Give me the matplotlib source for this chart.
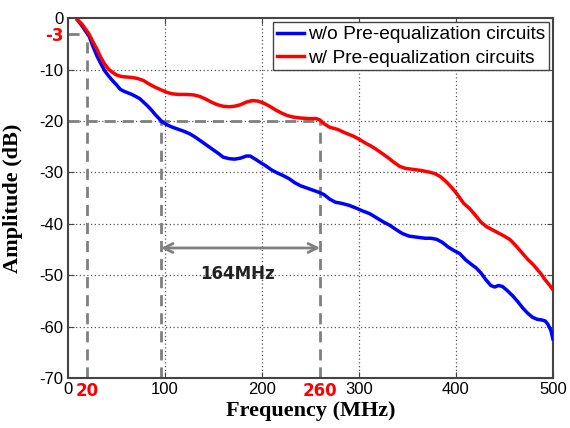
import numpy as np
import matplotlib
matplotlib.use('Agg')
import matplotlib.pyplot as plt

# w/o pre-equalization (blue)
f_blue = [10, 14, 18, 22, 26, 30, 34, 38, 42, 46, 50, 54, 58, 62, 66, 70, 74, 78, 82, 86,
          90, 94, 97, 102, 108, 114, 120, 126, 132, 138, 144, 150, 156, 160, 166, 172, 178,
          184, 188, 194, 198, 204, 210, 216, 222, 228, 234, 240, 246, 252, 258, 264, 270,
          276, 282, 290, 298, 304, 311, 318, 325, 332, 339, 345, 352, 360, 368, 374, 380,
          386, 392, 398, 404, 410, 416, 421, 426, 431, 436, 440, 444, 448, 453, 459, 464,
          469, 474, 479, 484, 488, 492, 495, 498, 500]
a_blue = [-0.3, -1.3, -2.4, -3.5, -5.5, -7.3, -8.8, -10.2, -11.2, -12.1, -12.9, -13.8, -14.2,
          -14.5, -14.8, -15.2, -15.6, -16.3, -17.0, -17.8, -18.7, -19.5, -20.1, -20.7, -21.2,
          -21.6, -22.0, -22.5, -23.2, -24.0, -24.8, -25.6, -26.4, -27.0, -27.3, -27.4, -27.2,
          -26.8, -26.8, -27.5, -28.0, -28.7, -29.5, -30.1, -30.6, -31.2, -32.0, -32.6, -33.0,
          -33.4, -33.8, -34.3, -35.2, -35.8, -36.0, -36.4, -37.0, -37.5, -38.0, -38.8, -39.6,
          -40.3, -41.2, -41.9, -42.4, -42.6, -42.8, -42.8, -43.0, -43.6, -44.5, -45.2, -45.8,
          -47.0, -47.9, -48.6, -49.6, -50.9, -52.0, -52.3, -52.0, -52.2, -53.0, -54.1, -55.2,
          -56.4, -57.4, -58.2, -58.6, -58.7, -58.9, -59.6, -60.8, -62.4]

# w/ pre-equalization (red)
f_red = [10, 14, 18, 22, 26, 30, 34, 38, 42, 46, 50, 55, 60, 66, 72, 78, 84, 90, 96, 102,
         108, 114, 122, 130, 136, 142, 148, 154, 160, 166, 172, 178, 184, 190, 196, 202, 208,
         214, 220, 226, 232, 240, 248, 256, 260, 264, 270, 278, 286, 294, 300, 306, 312, 318,
         324, 330, 336, 342, 348, 356, 364, 372, 378, 384, 390, 396, 402, 408, 414, 420, 426,
         432, 438, 444, 450, 456, 462, 468, 474, 480, 484, 488, 492, 496, 500]
a_red = [-0.3, -1.0, -2.0, -3.1, -4.6, -6.0, -7.6, -8.9, -9.9, -10.5, -11.0, -11.3, -11.4,
         -11.5, -11.7, -12.1, -12.8, -13.4, -13.9, -14.4, -14.7, -14.8, -14.8, -14.9, -15.2,
         -15.7, -16.3, -16.8, -17.1, -17.2, -17.1, -16.8, -16.3, -16.0, -16.1, -16.5, -17.1,
         -17.8, -18.4, -18.9, -19.2, -19.4, -19.5, -19.5, -19.8, -20.5, -21.2, -21.6, -22.3,
         -22.9, -23.5, -24.2, -24.8, -25.5, -26.3, -27.1, -28.0, -28.8, -29.2, -29.4, -29.6,
         -29.9, -30.2, -30.8, -31.8, -33.0, -34.4, -36.0, -37.0, -38.3, -39.7, -40.6, -41.2,
         -41.8, -42.4, -43.1, -44.3, -45.6, -46.9, -48.0, -48.9, -49.8, -50.9, -51.8, -52.8]

x_major = [0, 100, 200, 300, 400, 500]
y_major = [0, -10, -20, -30, -40, -50, -60, -70]
x_marks = [20, 260]
y_marks = [-3]
f_start = 96
f_3db = 20
bw_label = '164MHz'

fig = plt.figure(figsize=(5.7, 4.28), dpi=100)
ax = fig.add_axes([0.119, 0.117, 0.851, 0.84])

gray = '#808080'
dash = dict(color=gray, lw=2, ls=(0, (4, 2.5)), zorder=2)
ax.plot([f_3db, f_3db], [-70, -3], **dash)
ax.plot([0, f_3db], [-3, -3], **dash)
ax.plot([f_start, f_start], [-70, -20], **dash)
ax.plot([260, 260], [-70, -20], **dash)
ax.plot([0, 260], [-20, -20], **dash)

ax.annotate('', xy=(f_start, -44.7), xytext=(260, -44.7),
            arrowprops=dict(arrowstyle='<->', color=gray, lw=2, mutation_scale=16,
                            shrinkA=0, shrinkB=0))
ax.text(175, -49.7, bw_label, ha='center', va='center', fontsize=12,
        fontweight='bold', family='DejaVu Sans', color='#222222')

ax.plot(f_blue, a_blue, color='#0000ff', lw=2.5, label='w/o Pre-equalization circuits', zorder=3)
ax.plot(f_red, a_red, color='#ff0000', lw=2.5, label='w/ Pre-equalization circuits', zorder=3)

ax.set_xlim(0, 500)
ax.set_ylim(-70, 0)
ax.set_xticks(x_major)
ax.set_yticks(y_major)
ax.set_xticks(x_marks, minor=True)
ax.set_yticks(y_marks, minor=True)
ax.set_xticklabels([str(v) for v in x_major], fontsize=12, family='Liberation Sans')
ax.set_yticklabels([str(v) for v in y_major], fontsize=12, family='Liberation Sans')
ax.set_xticklabels([str(v) for v in x_marks], minor=True, fontsize=12,
                   fontweight='bold', color='#ff0000', family='DejaVu Sans')
ax.set_yticklabels([str(v) for v in y_marks], minor=True, fontsize=12,
                   fontweight='bold', color='#ff0000', family='DejaVu Sans')
ax.tick_params(which='both', direction='in', top=True, right=True, length=4,
               color='#444444', pad=3)
ax.tick_params(which='minor', length=0)

for v in x_major[1:-1]:
    ax.axvline(v, color='#555555', lw=0.9, ls=(0, (1, 2)), zorder=1)
for v in y_major[1:-1]:
    ax.axhline(v, color='#555555', lw=0.9, ls=(0, (1, 2)), zorder=1)

for s in ax.spines.values():
    s.set_color('#444444')
    s.set_linewidth(1.5)

ax.set_xlabel('Frequency (MHz)', fontsize=16, fontweight='bold',
              family='Liberation Serif', labelpad=1)
ax.set_ylabel('Amplitude (dB)', fontsize=16, fontweight='bold',
              family='Liberation Serif')
ax.yaxis.set_label_coords(-0.092, 0.5)

leg = ax.legend(loc='upper right', prop={'family': 'Liberation Sans', 'size': 13.8},
                fancybox=False, framealpha=1, edgecolor='#444444', borderaxespad=0.2,
                handlelength=1.4, handletextpad=0.2, borderpad=0.2, labelspacing=0.3)
leg.get_frame().set_linewidth(1.0)

fig.savefig('out.png', dpi=100)
